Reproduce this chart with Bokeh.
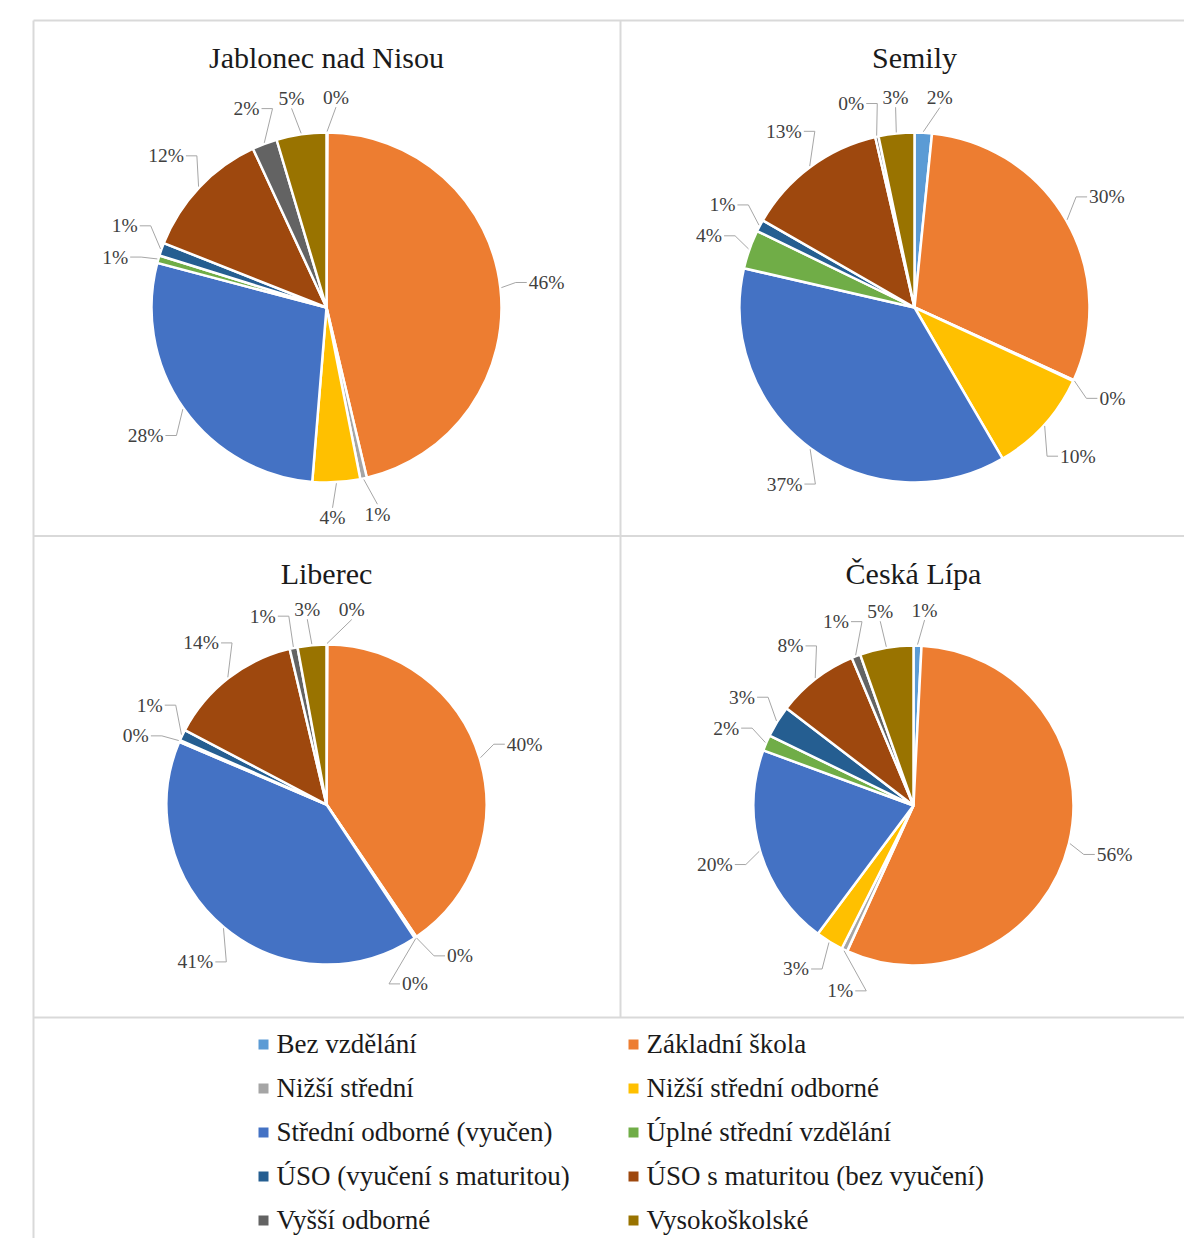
import math
from bokeh.plotting import figure
from bokeh.models import Range1d, ColumnDataSource
from bokeh.core.properties import value
from bokeh.embed import file_html
from bokeh.resources import INLINE

# ---------------- data ----------------
categories = [
    "Bez vzdělání", "Základní škola", "Nižší střední", "Nižší střední odborné",
    "Střední odborné (vyučen)", "Úplné střední vzdělání", "ÚSO (vyučení s maturitou)",
    "ÚSO s maturitou (bez vyučení)", "Vyšší odborné", "Vysokoškolské",
]
colors = ["#5B9BD5", "#ED7D31", "#A5A5A5", "#FFC000", "#4472C4",
          "#70AD47", "#255E91", "#9E480E", "#636363", "#997300"]
regions = ["Jablonec nad Nisou", "Semily", "Liberec", "Česká Lípa"]
jablonec = [0.1, 46.2, 0.6, 4.4, 27.8, 0.7, 1.2, 12.1, 2.3, 4.6]
semily = [1.6, 30.2, 0.1, 9.7, 37.0, 3.6, 1.1, 13.1, 0.3, 3.3]
liberec = [0.1, 40.4, 0.1, 0.1, 40.7, 0.2, 1.1, 13.6, 0.8, 2.9]
ceska_lipa = [0.8, 56.0, 0.6, 2.8, 20.4, 1.6, 3.2, 8.3, 0.9, 5.4]
series = [jablonec, semily, liberec, ceska_lipa]

# ---------------- layout (screen px) ----------------
W, H = 1184, 1238
def fy(sy):
    return H - sy

pies = [(326, 307, 175, 57), (914, 307, 175, 57), (326, 804, 160, 573), (913, 805, 160, 573)]
FONT = value("Liberation Serif")
LABEL_FS = 19.5
GRID = "#D9D9D9"

p = figure(width=W, height=H, x_range=Range1d(0, W), y_range=Range1d(0, H),
           output_backend="svg", toolbar_location=None, min_border=0)
p.axis.visible = False
p.grid.visible = False
p.outline_line_color = None
p.background_fill_color = "white"
p.border_fill_color = "white"

# panel borders
seg_x0 = [33, 33, 620, 33, 33]
seg_y0 = [20, 20, 20, 535.5, 1017]
seg_x1 = [W, 33, 620, W, W]
seg_y1 = [20, H, 1017, 535.5, 1017]
p.segment(x0=seg_x0, y0=[fy(v) for v in seg_y0], x1=seg_x1, y1=[fy(v) for v in seg_y1],
          line_color=GRID, line_width=2)


def label_layout(cx, cy, r, vals, gap=28):
    total = float(sum(vals))
    cum = 0.0
    starts, ends, mids = [], [], []
    for v in vals:
        a0 = cum / total * 360.0
        cum += v
        a1 = cum / total * 360.0
        starts.append(a0); ends.append(a1); mids.append((a0 + a1) / 2)
    texts = [f"{round(v / total * 100)}%" for v in vals]
    hw = [0.5 * LABEL_FS * (0.5 * (len(t) - 1) + 0.833) for t in texts]
    hh = LABEL_FS * 0.36
    phi = list(mids)
    n = len(vals)

    def centre(i):
        a = math.radians(phi[i])
        ux, uy = math.sin(a), -math.cos(a)
        d = r + gap + hw[i] * abs(ux) + hh * abs(uy)
        return cx + d * ux, cy + d * uy

    for _ in range(4000):
        moved = False
        for i in range(n):
            j = (i + 1) % n
            xi, yi = centre(i)
            xj, yj = centre(j)
            if abs(xi - xj) < hw[i] + hw[j] + 18 and abs(yi - yj) < 2 * hh + 16:
                phi[i] -= 0.2
                phi[j] += 0.2
                moved = True
        if not moved:
            break

    lx, ly, lines_x, lines_y = [], [], [], []
    for i in range(n):
        x, y = centre(i)
        lx.append(x); ly.append(y)
        t = math.radians(mids[i])
        ex, ey = cx + (r + 1) * math.sin(t), cy - (r + 1) * math.cos(t)
        ux = math.sin(math.radians(phi[i]))
        uy = -math.cos(math.radians(phi[i]))
        if abs(ux) >= 0.25:
            if ux > 0:
                sx = x - hw[i] - 2
                xs = [ex, sx - 11, sx]
            else:
                sx = x + hw[i] + 2
                xs = [ex, sx + 11, sx]
            ys = [ey, y, y]
        else:
            if uy < 0:
                xs = [ex, x]; ys = [ey, y + hh + 3]
            else:
                xs = [ex, x]; ys = [ey, y - hh - 3]
        lines_x.append(xs); lines_y.append([fy(v) for v in ys])
    return starts, ends, texts, lx, ly, lines_x, lines_y


for (cx, cy, r, ty), name, vals in zip(pies, regions, series):
    starts, ends, texts, lx, ly, lxs, lys = label_layout(cx, cy, r, vals)
    src = ColumnDataSource(dict(
        start=[math.pi / 2 - math.radians(e) for e in ends],
        end=[math.pi / 2 - math.radians(s) for s in starts],
        color=colors, cat=categories))
    p.wedge(x=cx, y=fy(cy), radius=r, start_angle="start", end_angle="end",
            fill_color="color", line_color="white", line_width=2.5, source=src)
    p.multi_line(xs=lxs, ys=lys, line_color="#A6A6A6", line_width=1)
    p.text(x=lx, y=[fy(v) for v in ly], text=texts, text_font=FONT,
           text_font_size=f"{LABEL_FS}px", text_color="#404040",
           text_align="center", text_baseline="middle")
    p.text(x=[cx], y=[fy(ty)], text=[name], text_font=FONT, text_font_size="30px",
           text_color="#1A1A1A", text_align="center", text_baseline="middle")

# legend (two columns)
leg_mx, leg_tx, leg_my, leg_ty = [], [], [], []
for i, c in enumerate(categories):
    row, col = divmod(i, 2)
    mx = [263, 633][col]
    leg_mx.append(mx)
    leg_tx.append(mx + 13)
    leg_my.append(fy(1044 + 44 * row))
    leg_ty.append(fy(1043 + 44 * row))
p.rect(x=leg_mx, y=leg_my, width=10, height=10, fill_color=colors, line_color=None)
p.text(x=leg_tx, y=leg_ty, text=categories, text_font=FONT, text_font_size="27px",
       text_color="#1A1A1A", text_align="left", text_baseline="middle")

open("out.html", "w").write(file_html(p, INLINE))
